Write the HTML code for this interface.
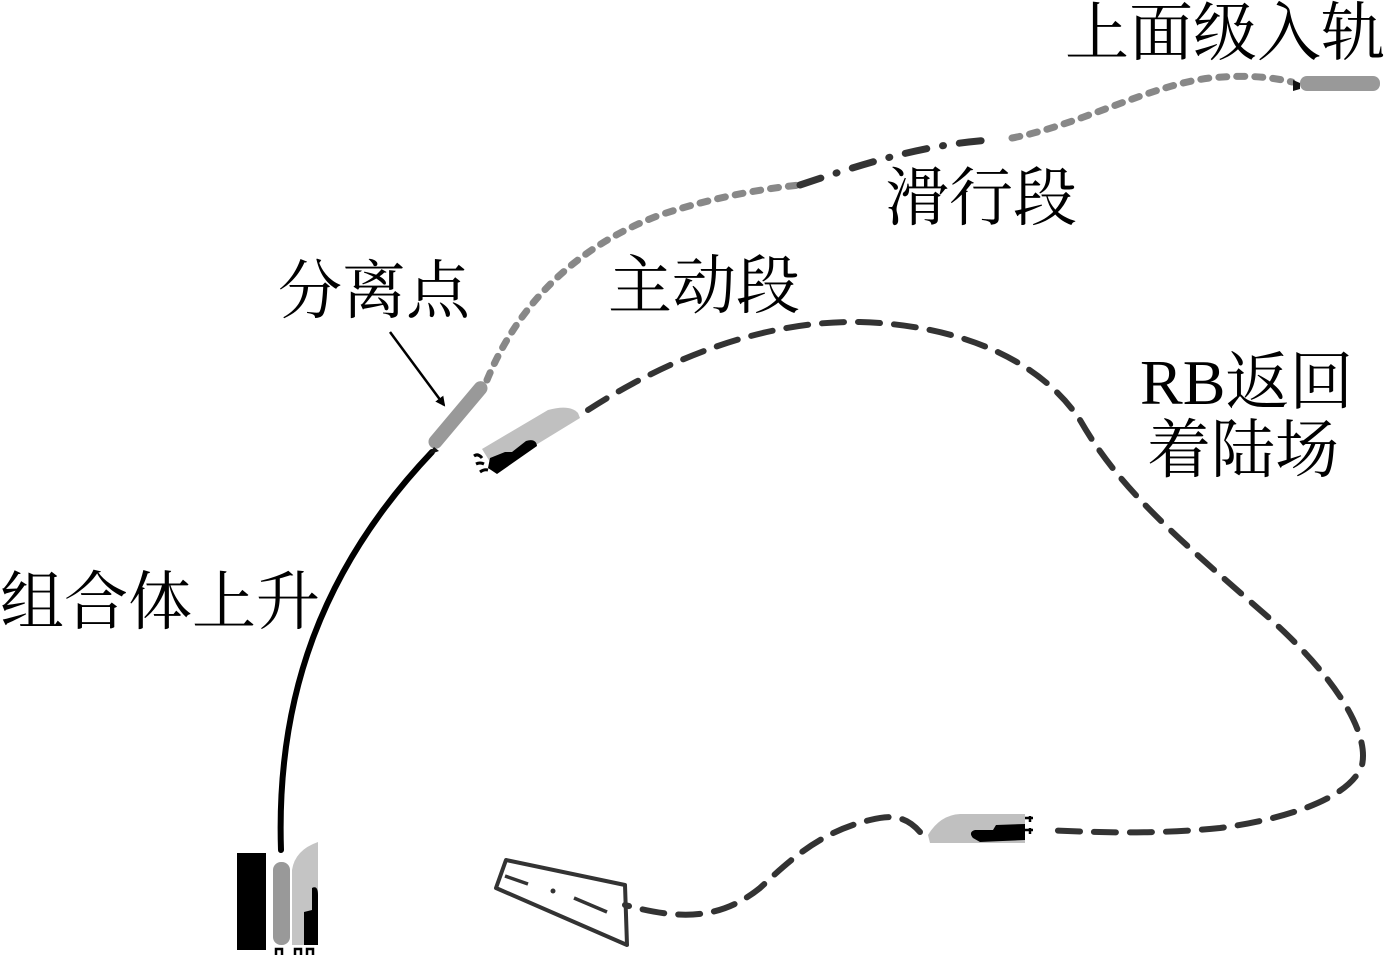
<!DOCTYPE html>
<html><head><meta charset="utf-8"><style>
html,body{margin:0;padding:0;background:#fff;}
svg{display:block}
text{font-family:"Liberation Serif","Noto Serif CJK SC",serif;fill:#000;font-size:64px}
</style></head><body>
<svg width="1394" height="960" viewBox="0 0 1394 960" xmlns="http://www.w3.org/2000/svg">
<defs><marker id="ah" markerWidth="10" markerHeight="10" refX="8" refY="5" orient="auto" markerUnits="userSpaceOnUse"><path d="M0,0 L10,5 L0,10 Z" fill="#000"/></marker></defs>
<path d="M281,850 C276,700 320,570 432,452" fill="none" stroke="#000" stroke-width="6" stroke-linecap="round"/>
<path d="M487,380 C520,300 580,245 660,215 C720,195 770,188 800,185" fill="none" stroke="#888" stroke-width="7" stroke-dasharray="8 10" stroke-linecap="round"/>
<path d="M800,185 C860,165 920,145 990,140" fill="none" stroke="#333" stroke-width="7" stroke-dasharray="22 16 1 16" stroke-linecap="round"/>
<path d="M1012,138 C1080,125 1150,85 1210,78 C1250,74 1275,78 1292,82" fill="none" stroke="#888" stroke-width="7" stroke-dasharray="8 10" stroke-linecap="round"/>
<rect x="1300" y="76" width="80" height="15" rx="7" fill="#999"/>
<path d="M1293,80 l7,3 l0,6 l-7,2 z" fill="#111"/>
<g transform="translate(458,415) rotate(-50)">
<rect x="-42" y="-7" width="84" height="14" rx="7" fill="#999"/>
</g>
<path d="M428,455 l6,-8 l5,4 z" fill="#111"/>
<line x1="390" y1="332" x2="444" y2="405" stroke="#000" stroke-width="2.5" marker-end="url(#ah)"/>
<path d="M482,449 L548,410 Q570,404 578,413 L580,418 L495,470 Z" fill="#c0c0c0"/>
<path d="M488,468 L490,458 L505,452 L512,452 L526,441 Q536,438 537,446 L497,474 Z" fill="#000"/>
<path d="M474,456 q4,-3 8,2 M476,464 q4,-2 8,0 M480,472 q4,-3 8,-2" stroke="#000" stroke-width="3" fill="none"/>
<path d="M588,410 C650,370 750,320 860,322 C960,325 1040,360 1080,420 C1120,490 1180,540 1260,610 C1330,670 1370,730 1362,765 C1350,800 1280,820 1220,828 C1150,835 1090,832 1045,830" fill="none" stroke="#333" stroke-width="6" stroke-dasharray="22 14" stroke-linecap="round"/>
<path d="M920,832 C905,815 890,815 870,820 C820,832 790,860 760,888 C720,920 680,920 625,905" fill="none" stroke="#333" stroke-width="6" stroke-dasharray="22 14" stroke-linecap="round"/>
<path d="M928,835 Q940,815 960,814 L1025,814 L1025,843 L930,843 Z" fill="#c0c0c0"/>
<path d="M973,838 Q968,832 975,830 L993,830 L996,825 L1025,824 L1025,840 L980,842 Z" fill="#000"/>
<path d="M1025,818 l8,0 M1030,816 l0,6 M1025,830 l8,0 M1030,828 l0,6" stroke="#000" stroke-width="2.5" fill="none"/>
<path d="M506,860 L625,885 L627,945 L496,888 Z" fill="none" stroke="#333" stroke-width="4" stroke-linejoin="round"/>
<line x1="505" y1="876" x2="528" y2="884" stroke="#333" stroke-width="3.5"/>
<circle cx="553" cy="891" r="2.5" fill="#333"/>
<line x1="574" y1="898" x2="607" y2="912" stroke="#333" stroke-width="3.5"/>
<rect x="237" y="853" width="29" height="97" fill="#000"/>
<rect x="273" y="862" width="17" height="83" rx="8" fill="#999"/>
<path d="M292,945 L292,870 Q295,850 318,842 L318,945 Z" fill="#c4c4c4"/>
<path d="M304,945 L304,912 L312,910 L312,888 Q318,885 318,895 L318,945 Z" fill="#000"/>
<path d="M276,955 l0,-6 l6,0 l0,6 M295,955 l0,-6 l6,0 l0,6 M307,955 l0,-6 l6,0 l0,6" stroke="#000" stroke-width="2.5" fill="none"/>
<text x="1065" y="55">上面级入轨</text>
<text x="885" y="220">滑行段</text>
<text x="608" y="308">主动段</text>
<text x="278" y="313">分离点</text>
<text x="1140" y="404">RB返回</text>
<text x="1147" y="472">着陆场</text>
<text x="0" y="624">组合体上升</text>
</svg>
</body></html>
